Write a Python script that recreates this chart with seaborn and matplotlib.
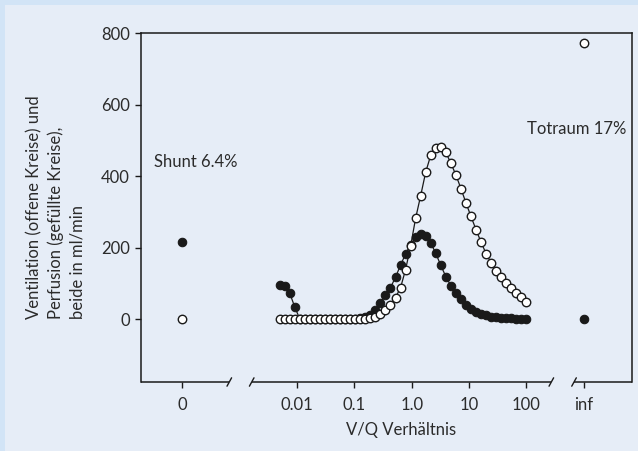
import numpy as np
import pandas as pd
import matplotlib
matplotlib.use("Agg")
import matplotlib.pyplot as plt
from matplotlib.patches import Rectangle
import seaborn as sns

# 50 V/Q compartments (log spaced 0.005 .. 100)
vq_ratio = [0.005, 0.00612, 0.00749, 0.00917, 0.01122, 0.01373, 0.01681, 0.02058,
            0.02519, 0.03083, 0.03774, 0.0462, 0.05655, 0.06922, 0.08474, 0.1037,
            0.127, 0.1554, 0.1902, 0.2329, 0.285, 0.3489, 0.4271, 0.5228, 0.64,
            0.7825, 0.958, 1.172, 1.435, 1.757, 2.15, 2.632, 3.221, 3.942, 4.826,
            5.907, 7.229, 8.849, 10.83, 13.26, 16.23, 19.86, 24.31, 29.75, 36.42,
            44.58, 54.56, 66.78, 81.73, 100.0]

# ventilation (open circles), ml/min
ventilation = [0, 0, 0, 0, 0, 0, 0, 0, 0, 0, 0, 0, 0, 0, 0, 0, 0, 1, 3, 7,
               14, 26, 40, 60, 88, 138, 204, 282, 345, 411, 458, 478, 480, 466,
               436, 403, 365, 325, 287, 250, 215, 183, 157, 134, 117, 100, 86,
               73, 62, 49]

# perfusion (filled circles), ml/min
perfusion = [96, 92, 72, 33, 0, 0, 0, 0, 0, 0, 0, 0, 0, 0, 0, 0, 2, 5, 10, 25,
             46, 66, 88, 117, 151, 182, 208, 229, 238, 233, 213, 184, 150, 119,
             93, 72, 55, 39, 27, 19, 14, 10, 7, 5, 4, 3, 2, 1, 1, 0]

# shunt (V/Q = 0) and dead space (V/Q = inf) compartments
shunt_vent, shunt_perf = 0, 215
dead_vent, dead_perf = 772, 0

tick_labels = ["0", "0.01", "0.1", "1.0", "10", "100", "inf"]

# stand-in positions on the log axis for the 0 and inf compartments
SHUNT_POS = 1e-4
DEAD_POS = 1e3

sns.set_theme(style="white")
plt.rcParams["font.family"] = ["Lato", "DejaVu Sans"]

outer_bg = "#d2e4f6"
panel_bg = "#e6edf7"
txt = "#2b2b2b"
ink = "#1a1a1a"

fig = plt.figure(figsize=(6.38, 4.51), dpi=100, facecolor=outer_bg)
panel = Rectangle((5 / 638, 0), 1, 1 - 5 / 451, transform=fig.transFigure,
                  facecolor=panel_bg, edgecolor="none", zorder=-10)
fig.add_artist(panel)
ax = fig.add_axes([141 / 638, 1 - 382 / 451, 491 / 638, 349 / 451])
ax.set_zorder(1)
ax.set_facecolor(panel_bg)

df = pd.DataFrame({"vq": vq_ratio, "vent": ventilation, "perf": perfusion})

ms = 6.1
sns.lineplot(data=df, x="vq", y="perf", ax=ax, color=ink, linewidth=0.9,
             marker="o", markersize=ms, markerfacecolor=ink,
             markeredgecolor=ink, markeredgewidth=0.8, zorder=3)
sns.lineplot(data=df, x="vq", y="vent", ax=ax, color=ink, linewidth=0.9,
             marker="o", markersize=ms, markerfacecolor="white",
             markeredgecolor=ink, markeredgewidth=1.0, zorder=4)

sns.scatterplot(x=[SHUNT_POS, DEAD_POS], y=[shunt_perf, dead_perf], ax=ax, s=37,
                color=ink, edgecolor=ink, linewidth=0.8, zorder=5)
sns.scatterplot(x=[SHUNT_POS, DEAD_POS], y=[shunt_vent, dead_vent], ax=ax, s=37,
                color="white", edgecolor=ink, linewidth=1.0, zorder=5)

ax.set_xscale("log")
ax.set_xlim(10 ** -4.721, 10 ** 3.843)
ax.set_ylim(-176, 800)
ax.set_xticks([SHUNT_POS, 0.01, 0.1, 1, 10, 100, DEAD_POS])
ax.set_xticklabels(tick_labels)
ax.xaxis.set_minor_locator(matplotlib.ticker.NullLocator())
ax.set_yticks([0, 200, 400, 600, 800])
ax.tick_params(axis="both", which="major", direction="out", length=4, width=1,
               color=ink, labelsize=12, labelcolor=txt, bottom=True, left=True)
ax.tick_params(axis="x", pad=6.5)
ax.tick_params(axis="y", pad=4)

for side in ["left", "top", "right"]:
    ax.spines[side].set_color(ink)
    ax.spines[side].set_linewidth(1.1)
ax.spines["bottom"].set_visible(False)

# broken bottom axis
trans = ax.get_xaxis_transform()
segs = [(-4.721, -3.181), (-2.790, 2.436), (2.832, 3.843)]
for a, b in segs:
    ax.plot([10 ** a, 10 ** b], [0, 0], transform=trans, color=ink,
            linewidth=1.1, clip_on=False, solid_capstyle="butt")
for b in [-3.181, -2.790, 2.436, 2.832]:
    ax.plot([10 ** (b - 0.04), 10 ** (b + 0.04)], [-0.012, 0.012], transform=trans,
            color=ink, linewidth=1.0, clip_on=False)

ax.text(10 ** -4.5, 440, "Shunt 6.4%", fontsize=12, color=txt, va="center", ha="left")
ax.text(10 ** 2.02, 531, "Totraum 17%", fontsize=12, color=txt, va="center", ha="left")

ax.set_xlabel("V/Q Verhältnis", fontsize=12, color=txt)
ax.xaxis.set_label_coords(0.53, -0.114)
ax.set_ylabel("")

fig.text(56 / 638, 1 - 319 / 451,
         "Ventilation (offene Kreise) und\nPerfusion (gefüllte Kreise),\nbeide in ml/min",
         rotation=90, ha="center", va="bottom", multialignment="left",
         fontsize=12, color=txt, linespacing=1.38)

fig.savefig("out.png", dpi=100, facecolor=outer_bg)
